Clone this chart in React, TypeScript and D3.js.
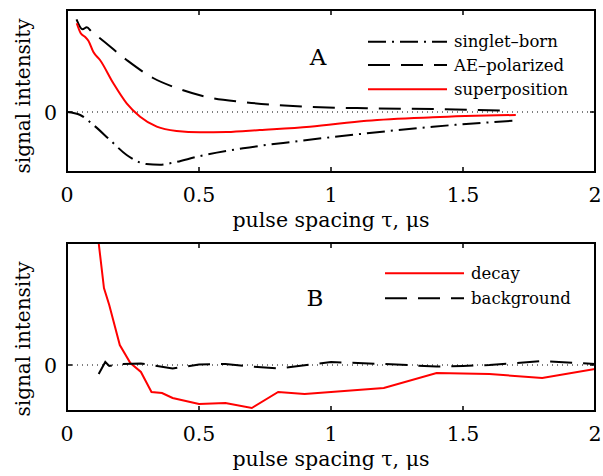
import React from 'react';
import * as d3 from 'd3';

// x axis ticks (pulse spacing, µs)
const xTicks = [0, 0.5, 1, 1.5, 2];
const xTickLabels = ['0', '0.5', '1', '1.5', '2'];

// panel A
const singletTau = [0, 0.05, 0.1, 0.163, 0.226, 0.3, 0.352, 0.39, 0.504, 0.667, 0.856, 1.135, 1.386, 1.69];
const singletBorn = [0, -0.03, -0.13, -0.28, -0.43, -0.52, -0.527, -0.513, -0.44, -0.363, -0.297, -0.213, -0.147, -0.087];

const aeTau = [0.036, 0.059, 0.075, 0.093, 0.125, 0.226, 0.326, 0.415, 0.53, 0.667, 0.856, 1.135, 1.386, 1.68];
const aePolarized = [0.927, 0.827, 0.847, 0.803, 0.737, 0.52, 0.34, 0.24, 0.15, 0.1, 0.06, 0.037, 0.03, 0.013];

const superTau = [0.037, 0.052, 0.068, 0.081, 0.1, 0.125, 0.175, 0.226, 0.277, 0.34, 0.415, 0.504, 0.605, 0.73, 0.92, 1.135, 1.386, 1.7];
const superposition = [0.887, 0.787, 0.753, 0.713, 0.6, 0.52, 0.29, 0.087, -0.047, -0.147, -0.19, -0.203, -0.2, -0.18, -0.147, -0.087, -0.053, -0.03];

// panel B
const decayTau = [0.12, 0.14, 0.16, 0.2, 0.24, 0.28, 0.32, 0.36, 0.4, 0.5, 0.6, 0.7, 0.8, 0.9, 1.2, 1.4, 1.6, 1.8, 2.0];
const decay = [1.22, 0.77, 0.6, 0.2, 0.02, -0.07, -0.27, -0.28, -0.33, -0.39, -0.38, -0.43, -0.27, -0.29, -0.23, -0.08, -0.09, -0.13, -0.04];

const bgTau = [0.12, 0.145, 0.16, 0.2, 0.28, 0.4, 0.5, 0.6, 0.7, 0.8, 1.0, 1.2, 1.4, 1.5, 1.6, 1.8, 2.0];
const background = [-0.09, 0.03, -0.01, 0.01, 0.015, -0.035, 0.005, 0.01, -0.015, -0.035, 0.03, 0.01, -0.015, -0.01, 0.0, 0.04, 0.01];

const FONT = '"DejaVu Serif", serif';
const DASH = '22,11';
const DASHDOT = '18,6,2,6';

const Panel = ({ top, bottom, yDomain, series, legend, letter, letterPos, legendX, legendY, clipId, ylabelY }) => {
  const left = 67, right = 595;
  const x = d3.scaleLinear().domain([0, 2]).range([left, right]);
  const y = d3.scaleLinear().domain(yDomain).range([bottom, top]);
  const line = (curve) => d3.line().x(d => x(d[0])).y(d => y(d[1])).curve(curve);

  return (
    <g>
      <defs>
        <clipPath id={clipId}>
          <rect x={left} y={top} width={right - left} height={bottom - top} />
        </clipPath>
      </defs>
      {/* zero line */}
      <line x1={left} x2={right} y1={y(0)} y2={y(0)} stroke="#000" strokeWidth={1} strokeDasharray="1,4" />
      <g clipPath={`url(#${clipId})`}>
        {series.map((s, i) => (
          <path key={i} d={line(s.curve)(s.tau.map((t, j) => [t, s.vals[j]]))}
            fill="none" stroke={s.color} strokeWidth={2} strokeDasharray={s.dash} />
        ))}
      </g>
      {/* box */}
      <rect x={left} y={top} width={right - left} height={bottom - top} fill="none" stroke="#000" strokeWidth={2} />
      {xTicks.map((t, i) => (
        <g key={i}>
          <line x1={x(t)} x2={x(t)} y1={bottom} y2={bottom - 5} stroke="#000" strokeWidth={1.5} />
          <line x1={x(t)} x2={x(t)} y1={top} y2={top + 5} stroke="#000" strokeWidth={1.5} />
          <text x={x(t)} y={bottom + 30} textAnchor="middle" fontSize={20.5} fontFamily={FONT}>{xTickLabels[i]}</text>
        </g>
      ))}
      <line x1={left} x2={left + 5} y1={y(0)} y2={y(0)} stroke="#000" strokeWidth={1.5} />
      <line x1={right} x2={right - 5} y1={y(0)} y2={y(0)} stroke="#000" strokeWidth={1.5} />
      <text x={57} y={y(0) + 8} textAnchor="end" fontSize={20.5} fontFamily={FONT}>0</text>
      <text x={(left + right) / 2} y={bottom + 55} textAnchor="middle" fontSize={20.5} fontFamily={FONT}>pulse spacing τ, μs</text>
      <text transform={`translate(30,${ylabelY}) rotate(-90)`} textAnchor="middle" fontSize={20} fontFamily={FONT}>signal intensity</text>
      <text x={letterPos[0]} y={letterPos[1]} textAnchor="middle" fontSize={23} fontFamily={FONT}>{letter}</text>
      {legend.map((l, i) => (
        <g key={i}>
          <line x1={legendX} x2={legendX + 79} y1={legendY[i]} y2={legendY[i]} stroke={l.color} strokeWidth={2} strokeDasharray={l.dash} />
          <text x={legendX + 86} y={legendY[i] + 5.5} fontSize={16.5} fontFamily={FONT}>{l.label}</text>
        </g>
      ))}
    </g>
  );
};

export default function App() {
  const seriesA = [
    { tau: singletTau, vals: singletBorn, color: '#000', dash: DASHDOT, curve: d3.curveMonotoneX },
    { tau: aeTau, vals: aePolarized, color: '#000', dash: DASH, curve: d3.curveMonotoneX },
    { tau: superTau, vals: superposition, color: '#ff0000', dash: null, curve: d3.curveMonotoneX },
  ];
  const legendA = [
    { label: 'singlet–born', color: '#000', dash: DASHDOT },
    { label: 'AE–polarized', color: '#000', dash: DASH },
    { label: 'superposition', color: '#ff0000', dash: null },
  ];
  const seriesB = [
    { tau: decayTau, vals: decay, color: '#ff0000', dash: null, curve: d3.curveLinear },
    { tau: bgTau, vals: background, color: '#000', dash: DASH, curve: d3.curveLinear },
  ];
  const legendB = [
    { label: 'decay', color: '#ff0000', dash: null },
    { label: 'background', color: '#000', dash: DASH },
  ];
  return (
    <svg width={603} height={476} style={{ position: 'absolute', left: 0, top: 0, background: '#fff' }}>
      <Panel top={10} bottom={172} yDomain={[-0.6, 1.02]} series={seriesA} legend={legendA}
        letter="A" letterPos={[318, 65]} legendX={368} legendY={[41.7, 65, 89.3]} clipId="clipA" ylabelY={96} />
      <Panel top={243} bottom={411} yDomain={[-0.46, 1.22]} series={seriesB} legend={legendB}
        letter="B" letterPos={[315, 306]} legendX={385} legendY={[273.3, 298.3]} clipId="clipB" ylabelY={339} />
    </svg>
  );
}
